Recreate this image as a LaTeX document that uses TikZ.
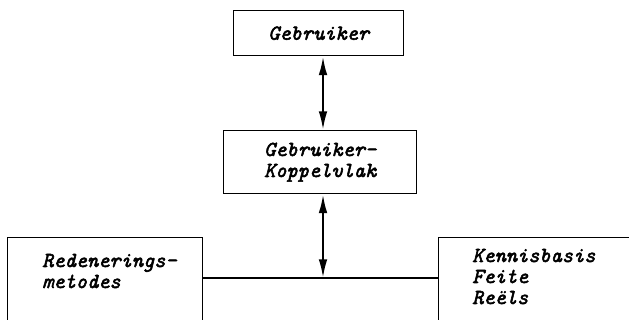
\documentclass[tikz,border=0pt]{standalone}
\usepackage{fontspec}
\usetikzlibrary{arrows.meta}
% cursive typewriter face for all labels
\newfontfamily\tw{lmmono10-italic.otf}[FakeBold=2.5]
\tikzset{
  box/.style={draw, line width=1.1pt, rectangle, inner sep=0pt},
  lbl/.style={font=\tw\fontsize{16pt}{15.75pt}\selectfont, inner sep=0pt, align=left},
  link/.style={line width=1.6pt, {Latex[length=14pt,width=6.5pt]}-{Latex[length=14pt,width=6.5pt]}},
  wire/.style={line width=1.1pt}
}
\begin{document}
\begin{tikzpicture}[x=0.75pt,y=-0.75pt]
\useasboundingbox (0,0) rectangle (629,320);
% user and user interface
\node[box, minimum width=170*0.75pt, minimum height=45*0.75pt, anchor=north west,
      lbl, align=center] (user) at (233,10) {Gebruiker};
\node[box, minimum width=193*0.75pt, minimum height=63*0.75pt, anchor=north west,
      lbl, align=center] (ui) at (223,130) {Gebruiker–\\Koppelvlak};
% lower boxes run past the bottom/right edge of the page
\node[box, minimum width=195*0.75pt, minimum height=130*0.75pt, anchor=north west] (inf) at (7,237) {};
\node[box, minimum width=240*0.75pt, minimum height=130*0.75pt, anchor=north west] (kb) at (438,237) {};
% labels anchored at the baseline of their last line
\node[lbl, anchor=base west] (inftxt) at (42,288) {Redenerings–\\metodes};
\node[lbl, anchor=base west] (kbtxt) at (472,304) {Kennisbasis\\Feite\\Reëls};
% connecting bus
\coordinate (busl) at (202,278);
\coordinate (busr) at (438,278);
\coordinate (busm) at (323,278);
\draw[wire] (busl) -- (busr);
\draw[link] (user.south -| busm) -- (ui.north -| busm);
\draw[link] (ui.south -| busm) -- (busm);
\end{tikzpicture}
\end{document}
